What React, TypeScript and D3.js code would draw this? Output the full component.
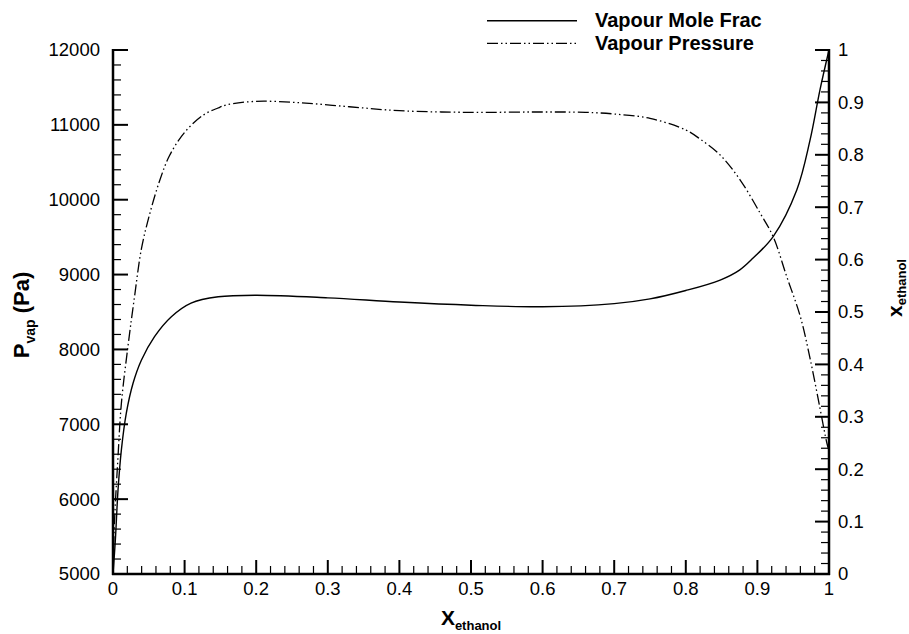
import React from "react";
import * as d3 from "d3";

// Vapour Pressure (left axis, Pa) vs ethanol mole fraction
const pressureX = [0, 0.002, 0.007, 0.0117, 0.021, 0.030, 0.0396, 0.051, 0.065, 0.079, 0.1, 0.126, 0.1466, 0.159, 0.2, 0.26, 0.33, 0.4, 0.5, 0.59, 0.66, 0.7, 0.75, 0.8, 0.82, 0.848, 0.876, 0.904, 0.922, 0.941, 0.96, 0.974, 0.987, 0.997, 1.0];
const pressureY = [5050, 5680, 6567, 7280, 8050, 8700, 9340, 9800, 10250, 10590, 10900, 11130, 11225, 11268, 11314, 11296, 11242, 11189, 11167, 11172, 11167, 11145, 11087, 10931, 10810, 10597, 10263, 9818, 9506, 8972, 8437, 7859, 7235, 6750, 6650];

// Vapour Mole Fraction (right axis)
const fracX = [0, 0.0033, 0.007, 0.0117, 0.0186, 0.028, 0.0396, 0.058, 0.0815, 0.109, 0.147, 0.2, 0.3, 0.4, 0.5, 0.6, 0.7, 0.75, 0.8, 0.848, 0.875, 0.894, 0.922, 0.955, 0.9735, 0.9874, 1.0];
const fracY = [0.0, 0.065, 0.16, 0.237, 0.307, 0.364, 0.408, 0.453, 0.491, 0.517, 0.529, 0.532, 0.527, 0.519, 0.513, 0.51, 0.516, 0.525, 0.541, 0.561, 0.58, 0.603, 0.644, 0.733, 0.828, 0.924, 1.0];

const xTicks = [0, 0.1, 0.2, 0.3, 0.4, 0.5, 0.6, 0.7, 0.8, 0.9, 1];
const leftTicks = [5000, 6000, 7000, 8000, 9000, 10000, 11000, 12000];
const rightTicks = [0, 0.1, 0.2, 0.3, 0.4, 0.5, 0.6, 0.7, 0.8, 0.9, 1];
const legendLabels = ["Vapour Mole Frac", "Vapour Pressure"];

const W = 909, H = 634;
const L = 113, R = 829, T = 50, B = 574;
const FONT = "'Liberation Sans', Arial, Helvetica, sans-serif";
const DASH = "11,3,1.5,3,1.5,3";

export default function App() {
  const x = d3.scaleLinear().domain([0, 1]).range([L, R]);
  const yL = d3.scaleLinear().domain([5000, 12000]).range([B, T]);
  const yR = d3.scaleLinear().domain([0, 1]).range([B, T]);

  const pData = pressureX.map((v, i) => [v, pressureY[i]] as [number, number]);
  const fData = fracX.map((v, i) => [v, fracY[i]] as [number, number]);

  const curve = d3.curveCatmullRom.alpha(0.5);
  const pLine = d3.line<[number, number]>().x(d => x(d[0])).y(d => yL(d[1])).curve(curve);
  const fLine = d3.line<[number, number]>().x(d => x(d[0])).y(d => yR(d[1])).curve(curve);

  const xMinor = d3.range(0, 1.0001, 0.02).filter(v => Math.abs(v * 10 - Math.round(v * 10)) > 1e-6);
  const lMinor = d3.range(5000, 12001, 200).filter(v => v % 1000 !== 0);
  const rMinor = d3.range(0, 1.0001, 0.02).filter(v => Math.abs(v * 10 - Math.round(v * 10)) > 1e-6);

  const fmt = (v: number) => String(+v.toFixed(1));

  return (
    <svg width={W} height={H} style={{ position: "absolute", left: 0, top: 0, background: "#fff" }} fontFamily={FONT}>
      <rect x={0} y={0} width={W} height={H} fill="#fff" />
      {/* data */}
      <path d={pLine(pData) || ""} fill="none" stroke="#000" strokeWidth={1.3} strokeDasharray={DASH} />
      <path d={fLine(fData) || ""} fill="none" stroke="#000" strokeWidth={1.4} />

      {/* ticks */}
      <g stroke="#000">
        {xTicks.map(v => <line key={"xm" + v} x1={x(v)} x2={x(v)} y1={B} y2={B - 14} strokeWidth={2} />)}
        {xMinor.map(v => <line key={"xn" + v} x1={x(v)} x2={x(v)} y1={B} y2={B - 8} strokeWidth={1.2} />)}
        {leftTicks.map(v => <line key={"lm" + v} x1={L} x2={L + 15} y1={yL(v)} y2={yL(v)} strokeWidth={2} />)}
        {lMinor.map(v => <line key={"ln" + v} x1={L} x2={L + 8} y1={yL(v)} y2={yL(v)} strokeWidth={1.2} />)}
        {rightTicks.map(v => <line key={"rm" + v} x1={R} x2={R - 14} y1={yR(v)} y2={yR(v)} strokeWidth={2} />)}
        {rMinor.map(v => <line key={"rn" + v} x1={R} x2={R - 8} y1={yR(v)} y2={yR(v)} strokeWidth={1.2} />)}
        {/* axis lines */}
        <line x1={L} x2={L} y1={T - 1} y2={B + 1} strokeWidth={2.5} />
        <line x1={R} x2={R} y1={T - 1} y2={B + 1} strokeWidth={2.5} />
        <line x1={L - 1} x2={R + 1} y1={B} y2={B} strokeWidth={2.5} />
      </g>

      {/* tick labels */}
      <g fontSize={18.5} fill="#000">
        {xTicks.map(v => <text key={"xl" + v} x={x(v)} y={B + 21} textAnchor="middle">{fmt(v)}</text>)}
        {leftTicks.map(v => <text key={"ll" + v} x={L - 13} y={yL(v)} dy="0.35em" textAnchor="end">{v}</text>)}
        {rightTicks.map(v => <text key={"rl" + v} x={R + 9} y={yR(v)} dy="0.35em" textAnchor="start">{fmt(v)}</text>)}
      </g>

      {/* axis titles */}
      <text transform={`translate(28.5,315) rotate(-90)`} textAnchor="middle" fontWeight="bold" fontSize={22}>
        P<tspan fontSize={14} dy={6}>vap</tspan><tspan dy={-6}> (Pa)</tspan>
      </text>
      <text x={(L + R) / 2} y={625} textAnchor="middle" fontWeight="bold" fontSize={21}>
        X<tspan fontSize={13} dy={5}>ethanol</tspan>
      </text>
      <text transform={`translate(902,288) rotate(-90)`} textAnchor="middle" fontWeight="bold" fontSize={21}>
        x<tspan fontSize={13} dy={4}>ethanol</tspan>
      </text>

      {/* legend */}
      <g>
        <line x1={487} x2={577} y1={20.7} y2={20.7} stroke="#000" strokeWidth={1.4} />
        <line x1={487} x2={577} y1={43.3} y2={43.3} stroke="#000" strokeWidth={1.3} strokeDasharray={DASH} />
        <text x={595} y={27} fontWeight="bold" fontSize={20}>{legendLabels[0]}</text>
        <text x={595} y={50} fontWeight="bold" fontSize={20}>{legendLabels[1]}</text>
      </g>
    </svg>
  );
}
